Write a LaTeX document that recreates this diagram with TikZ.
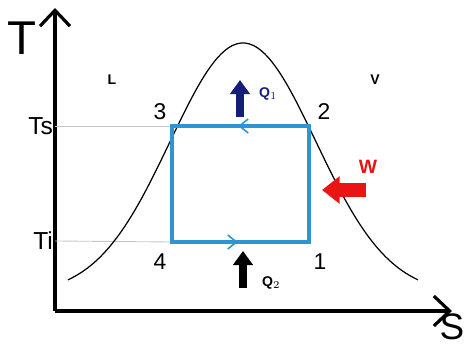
\documentclass[tikz,border=0pt]{standalone}
\usepackage{fontspec}
\setmainfont{Liberation Sans}
\usetikzlibrary{arrows.meta,decorations.markings}

\definecolor{ciclo}{RGB}{45,150,210}
\definecolor{calor}{RGB}{20,30,120}
\definecolor{trabajo}{RGB}{235,20,20}

\tikzset{
	eje/.style={line width=1.8pt, -{Straight Barb[length=9pt,width=17pt,line width=1.8pt]}},
	guia/.style={draw=gray!45, line width=0.5pt},
	flecha/.style={line width=5pt, -{Triangle[length=8pt,width=11pt]}},
	punto/.style={font=\fontsize{13}{13}\selectfont, inner sep=1pt},
	fase/.style={font=\fontsize{8}{8}\selectfont\bfseries}
}

\begin{document}
\begin{tikzpicture}[x=0.02cm, y=-0.02cm]
\useasboundingbox (0,0) rectangle (468,347);

% Ejes
\coordinate (O) at (55,311);
\coordinate (Ty) at (55,8);
\coordinate (Sx) at (452,311);
\draw[eje] (O) -- (Ty);
\draw[eje] (O) -- (Sx);
\node[font=\fontsize{27}{27}\selectfont] (T) at (22,38) {T};
\node[font=\fontsize{21}{21}\selectfont, inner sep=0pt] (S) at (452,327) {S};

% Lineas de temperatura
\coordinate (p1) at (309,242);
\coordinate (p2) at (309,126);
\coordinate (p3) at (172,126);
\coordinate (p4) at (172,242);
\node[font=\fontsize{14}{14}\selectfont, anchor=east, inner sep=1pt] (Ts) at (55,126) {Ts};
\node[font=\fontsize{14}{14}\selectfont, anchor=east, inner sep=1pt] (Ti) at (55,241) {Ti};
\draw[guia] (Ts.east) -- (p3);
\draw[guia] (Ti.east) -- (p4);

% Campana
\draw[line width=0.7pt, domain=68:418, samples=90, smooth]
	plot (\x, {294-251*exp(-((\x-243)/73)^2/2)});

% Ciclo
\draw[ciclo, line width=1.8pt, line join=miter,
	postaction={decorate, decoration={markings,
		mark=at position 0.14 with {\arrow[line width=0.9pt]{Straight Barb[length=5pt,width=8pt]}},
		mark=at position 0.63 with {\arrow[line width=0.9pt]{Straight Barb[length=5pt,width=8pt]}}}}]
	(p2) -- (p3) -- (p4) -- (p1) -- cycle;

% Estados
\node[punto] (n1) at (320,262) {1};
\node[punto] (n2) at (324,112) {2};
\node[punto] (n3) at (160,112) {3};
\node[punto] (n4) at (160,262) {4};
\node[fase] (L) at (112,80) {L};
\node[fase] (V) at (375,80) {V};

% Calor y trabajo
\coordinate (q1a) at (240,117);
\coordinate (q1b) at (240,80);
\coordinate (q2a) at (243,288);
\coordinate (q2b) at (243,251);
\coordinate (wa) at (366,190);
\coordinate (wb) at (322,190);
\draw[flecha, calor] (q1a) -- (q1b);
\draw[flecha, black] (q2a) -- (q2b);
\draw[flecha, trabajo, line width=8pt, -{Triangle[length=10pt,width=15pt]}] (wa) -- (wb);
\node[fase, calor, anchor=west] (Q1) at (253,94) {Q$_1$};
\node[fase, anchor=west] (Q2) at (256,283) {Q$_2$};
\node[trabajo, font=\fontsize{11}{11}\selectfont\bfseries] (W) at (368,167) {W};
\end{tikzpicture}
\end{document}
